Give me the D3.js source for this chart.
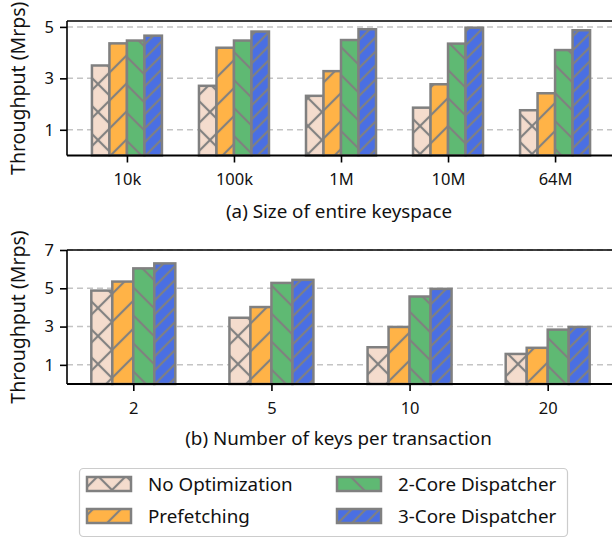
<!DOCTYPE html>
<html>
<head>
<meta charset="utf-8">
<script src="https://cdn.jsdelivr.net/npm/d3@7"></script>
<style>
  html, body { margin: 0; padding: 0; background: #fff; }
  svg { display: block; }
  text { font-family: "Noto Sans", Lato, sans-serif; fill: #111; }
</style>
</head>
<body>
<svg id="chart" width="612" height="539"></svg>
<script>
// Throughput for each optimisation level
const seriesNames = ["No Optimization", "Prefetching", "2-Core Dispatcher", "3-Core Dispatcher"];

// (a) size of the entire keyspace
const keyspaceLabels = ["10k", "100k", "1M", "10M", "64M"];
const keyspaceNoOpt    = [3.50, 2.71, 2.32, 1.86, 1.76];
const keyspacePrefetch = [4.36, 4.19, 3.28, 2.77, 2.42];
const keyspaceCore2    = [4.47, 4.47, 4.49, 4.35, 4.10];
const keyspaceCore3    = [4.66, 4.82, 4.91, 4.97, 4.87];
const keyspaceTicks    = [1, 3, 5];

// (b) number of keys per transaction
const keysLabels   = ["2", "5", "10", "20"];
const keysNoOpt    = [4.88, 3.46, 1.92, 1.57];
const keysPrefetch = [5.35, 4.02, 2.98, 1.89];
const keysCore2    = [6.04, 5.28, 4.57, 2.84];
const keysCore3    = [6.30, 5.44, 4.97, 2.98];
const keysTicks    = [1, 3, 5, 7];

const fills = ["#f4dccd", "#ffb347", "#5fb973", "#4a6fe3"];
const hatches = ["cross", "fwd", "back", "fwdDense"];
const edge = "#808080";
const font = "'Noto Sans', Lato, sans-serif";

const svg = d3.select("#chart");
const defs = svg.append("defs");

// hatch patterns: a line in a tile, rotated to the diagonal
function makePattern(id, fill, kind) {
  const dense = kind === "fwdDense";
  const s = dense ? 9.9 : 19.8;
  const angle = kind === "back" ? -45 : 45;
  const p = defs.append("pattern")
    .attr("id", id)
    .attr("patternUnits", "userSpaceOnUse")
    .attr("width", s).attr("height", s)
    .attr("patternTransform", `rotate(${angle})`);
  p.append("rect").attr("width", s).attr("height", s).attr("fill", fill);
  p.append("line").attr("x1", s / 2).attr("x2", s / 2).attr("y1", -1).attr("y2", s + 1)
    .attr("stroke", edge).attr("stroke-width", 2.2);
  if (kind === "cross") {
    p.append("line").attr("y1", s / 2).attr("y2", s / 2).attr("x1", -1).attr("x2", s + 1)
      .attr("stroke", edge).attr("stroke-width", 2.2);
  }
}
seriesNames.forEach((n, i) => makePattern("hatch" + i, fills[i], hatches[i]));

function panel(opts) {
  const { top, bottom, left, right, labels, series, ticks, yMax, xPad, barW, title, titleY } = opts;
  const g = svg.append("g");
  const x = d3.scaleLinear().domain([-xPad, labels.length - 1 + xPad]).range([left, right]);
  const y = d3.scaleLinear().domain([0, yMax]).range([bottom, top]);

  // dashed grid
  g.append("g").selectAll("line").data(ticks).join("line")
    .attr("x1", left).attr("x2", right)
    .attr("y1", d => y(d)).attr("y2", d => y(d))
    .attr("stroke", "#c4c4c4").attr("stroke-width", 1.5)
    .attr("stroke-dasharray", "6,4");

  // bars
  series.forEach((vals, si) => {
    g.append("g").selectAll("rect").data(vals).join("rect")
      .attr("x", (d, i) => x(i) + (si - 2) * barW)
      .attr("width", barW)
      .attr("y", d => y(d))
      .attr("height", d => y(0) - y(d))
      .attr("fill", `url(#hatch${si})`)
      .attr("stroke", edge).attr("stroke-width", 2.5);
  });

  // spines: left, top
  g.append("line").attr("x1", left).attr("x2", left).attr("y1", top).attr("y2", bottom)
    .attr("stroke", "#000").attr("stroke-width", 1.6);
  g.append("line").attr("x1", left).attr("x2", right).attr("y1", top).attr("y2", top)
    .attr("stroke", "#000").attr("stroke-width", 1.6);

  // bottom axis
  const xAxis = d3.axisBottom(x).tickValues(d3.range(labels.length))
    .tickFormat(i => labels[i]).tickSize(7).tickPadding(11);
  const ax = g.append("g").attr("transform", `translate(0,${bottom})`).call(xAxis);
  ax.select(".domain").attr("stroke", "#000").attr("stroke-width", 1.8)
    .attr("d", `M${left},0H${right}`);
  ax.selectAll(".tick line").attr("stroke", "#000").attr("stroke-width", 1.6);
  ax.selectAll(".tick text").attr("font-size", 16.5).attr("fill", "#111")
    .attr("font-family", font);

  // left axis
  const yAxis = d3.axisLeft(y).tickValues(ticks).tickFormat(d3.format("d")).tickSize(7).tickPadding(6);
  const ay = g.append("g").attr("transform", `translate(${left},0)`).call(yAxis);
  ay.select(".domain").remove();
  ay.selectAll(".tick line").attr("stroke", "#000").attr("stroke-width", 1.6);
  ay.selectAll(".tick text").attr("font-size", 16.5).attr("fill", "#111")
    .attr("font-family", font);

  // axis titles
  g.append("text")
    .attr("transform", `translate(25,${(top + bottom) / 2}) rotate(-90)`)
    .attr("text-anchor", "middle").attr("font-size", 19.5)
    .text("Throughput (Mrps)");
  g.append("text")
    .attr("x", (left + right) / 2 - 2).attr("y", titleY)
    .attr("text-anchor", "middle").attr("font-size", 18.8)
    .text(title);
}

panel({
  top: 21, bottom: 155.5, left: 67, right: 615,
  labels: keyspaceLabels,
  series: [keyspaceNoOpt, keyspacePrefetch, keyspaceCore2, keyspaceCore3],
  ticks: keyspaceTicks, yMax: 5.23, xPad: 0.56, barW: 17.5,
  title: "(a) Size of entire keyspace", titleY: 218
});

panel({
  top: 250, bottom: 384, left: 67, right: 614,
  labels: keysLabels,
  series: [keysNoOpt, keysPrefetch, keysCore2, keysCore3],
  ticks: keysTicks, yMax: 7, xPad: 0.48, barW: 21,
  title: "(b) Number of keys per transaction", titleY: 445
});

// legend
const lg = svg.append("g");
lg.append("rect").attr("x", 79.5).attr("y", 468.5).attr("width", 488).attr("height", 68)
  .attr("rx", 4).attr("fill", "#fff").attr("stroke", "#cccccc").attr("stroke-width", 1.2);
const legendPos = [[87, 477], [87, 509], [337, 477], [337, 509]];
seriesNames.forEach((n, i) => {
  const [lx, ly] = legendPos[i];
  lg.append("rect").attr("x", lx).attr("y", ly).attr("width", 44).attr("height", 14)
    .attr("fill", `url(#hatch${i})`).attr("stroke", edge).attr("stroke-width", 2.5);
  lg.append("text").attr("x", lx + 61).attr("y", ly + 7).attr("dy", "0.35em")
    .attr("font-size", 18.8).text(n);
});
</script>
</body>
</html>
